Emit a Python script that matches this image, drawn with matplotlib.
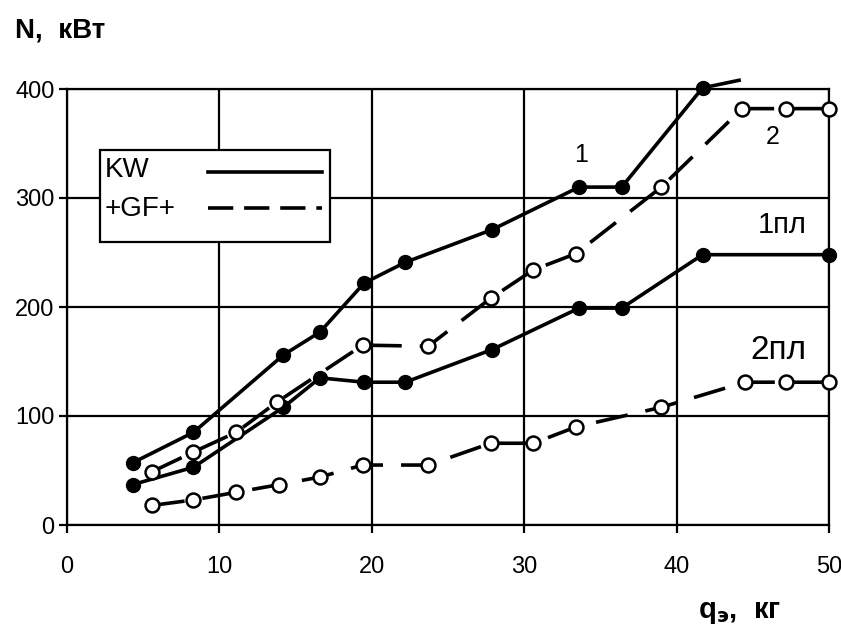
import matplotlib
matplotlib.use("Agg")
import matplotlib.pyplot as plt
from matplotlib.patches import Rectangle
from matplotlib.lines import Line2D

plt.rcParams['font.family'] = ['Liberation Sans', 'DejaVu Sans']

# KW, total (curve 1)
kw1_x = [4.3, 8.3, 14.2, 16.6, 19.5, 22.2, 27.9, 33.6, 36.4, 41.7]
kw1_y = [57, 85, 156, 177, 222, 241, 271, 310, 310, 401]
kw1_tail_x = [41.7, 44.1]
kw1_tail_y = [401, 408]
# +GF+, total (curve 2)
gf2_x = [5.6, 8.3, 11.1, 13.8, 19.4, 23.7, 27.8, 30.6, 33.4, 39.0, 44.3, 47.2, 50.0]
gf2_y = [49, 67, 85, 113, 165, 164, 208, 234, 249, 310, 382, 382, 382]
# KW, 1 пл
kw_1pl_x = [4.3, 8.3, 14.2, 16.6, 19.5, 22.2, 27.9, 33.6, 36.4, 41.7, 50.0]
kw_1pl_y = [37, 53, 108, 135, 131, 131, 161, 199, 199, 248, 248]
# +GF+, 2 пл
gf_2pl_x = [5.6, 8.3, 11.1, 13.9, 16.6, 19.4, 23.7, 27.8, 30.6, 33.4, 39.0, 44.5, 47.2, 50.0]
gf_2pl_y = [18, 23, 30, 37, 44, 55, 55, 75, 75, 90, 108, 131, 131, 131]

x_ticks = [0, 10, 20, 30, 40, 50]
y_ticks = [0, 100, 200, 300, 400]

fig = plt.figure(figsize=(8.41, 6.33), dpi=100)
ax = fig.add_axes([67/841, 1-525/633, 762/841, 436/633])
ax.set_xlim(0, 50)
ax.set_ylim(0, 400)
ax.set_xticks(x_ticks)
ax.set_yticks(y_ticks)
ax.grid(True, color='black', linewidth=1.6)
for s in ax.spines.values():
    s.set_linewidth(1.6)
ax.tick_params(direction='out', length=6, width=1.6, labelsize=17, colors='black')
ax.tick_params(axis='x', pad=16)
ax.tick_params(axis='y', pad=3)
ax.set_axisbelow(True)

lw = 2.6
dash = (0, (9, 5))
solid_kw = dict(color='black', linewidth=lw, marker='o', markersize=10,
                markerfacecolor='black', markeredgecolor='black', clip_on=False, zorder=5)
dash_kw = dict(color='black', linewidth=lw, linestyle=dash, marker='o', markersize=10,
               markerfacecolor='white', markeredgecolor='black', markeredgewidth=1.8,
               clip_on=False, zorder=5)

ax.plot(kw1_x, kw1_y, **solid_kw)
ax.plot(kw1_tail_x, kw1_tail_y, color='black', linewidth=lw, clip_on=False, zorder=5)
ax.plot(kw_1pl_x, kw_1pl_y, **solid_kw)
ax.plot(gf2_x, gf2_y, **dash_kw)
ax.plot(gf_2pl_x, gf_2pl_y, **dash_kw)

ax.text(33.7, 339, "1", fontsize=18, ha='center', va='center')
ax.text(46.3, 356, "2", fontsize=18, ha='center', va='center')
ax.text(46.9, 275, "1пл", fontsize=21, ha='center', va='center')
ax.text(46.7, 160, "2пл", fontsize=24, ha='center', va='center')

# legend box
ax.add_patch(Rectangle((0.0433, 0.649), 0.302, 0.211, transform=ax.transAxes,
                       facecolor='white', edgecolor='black', linewidth=1.6, zorder=6))
ax.text(0.050, 0.814, "KW", transform=ax.transAxes, fontsize=20, va='center', ha='left', zorder=7)
ax.text(0.050, 0.725, "+GF+", transform=ax.transAxes, fontsize=20, va='center', ha='left', zorder=7)
ax.add_line(Line2D([0.185, 0.335], [0.810, 0.810], transform=ax.transAxes,
                   color='black', linewidth=lw, zorder=7))
ax.add_line(Line2D([0.185, 0.335], [0.727, 0.727], transform=ax.transAxes,
                   color='black', linewidth=lw, linestyle=(0, (7, 3)), zorder=7))

fig.text(15/841, 1-30/633, "N,  кВт", fontsize=20, fontweight='bold', va='center', ha='left')
fig.text(698/841, 1-612/633, r"q$_{\mathbf{э}}$,  кг", fontsize=21, fontweight='bold', va='center', ha='left')

fig.savefig("out.png", dpi=100)
